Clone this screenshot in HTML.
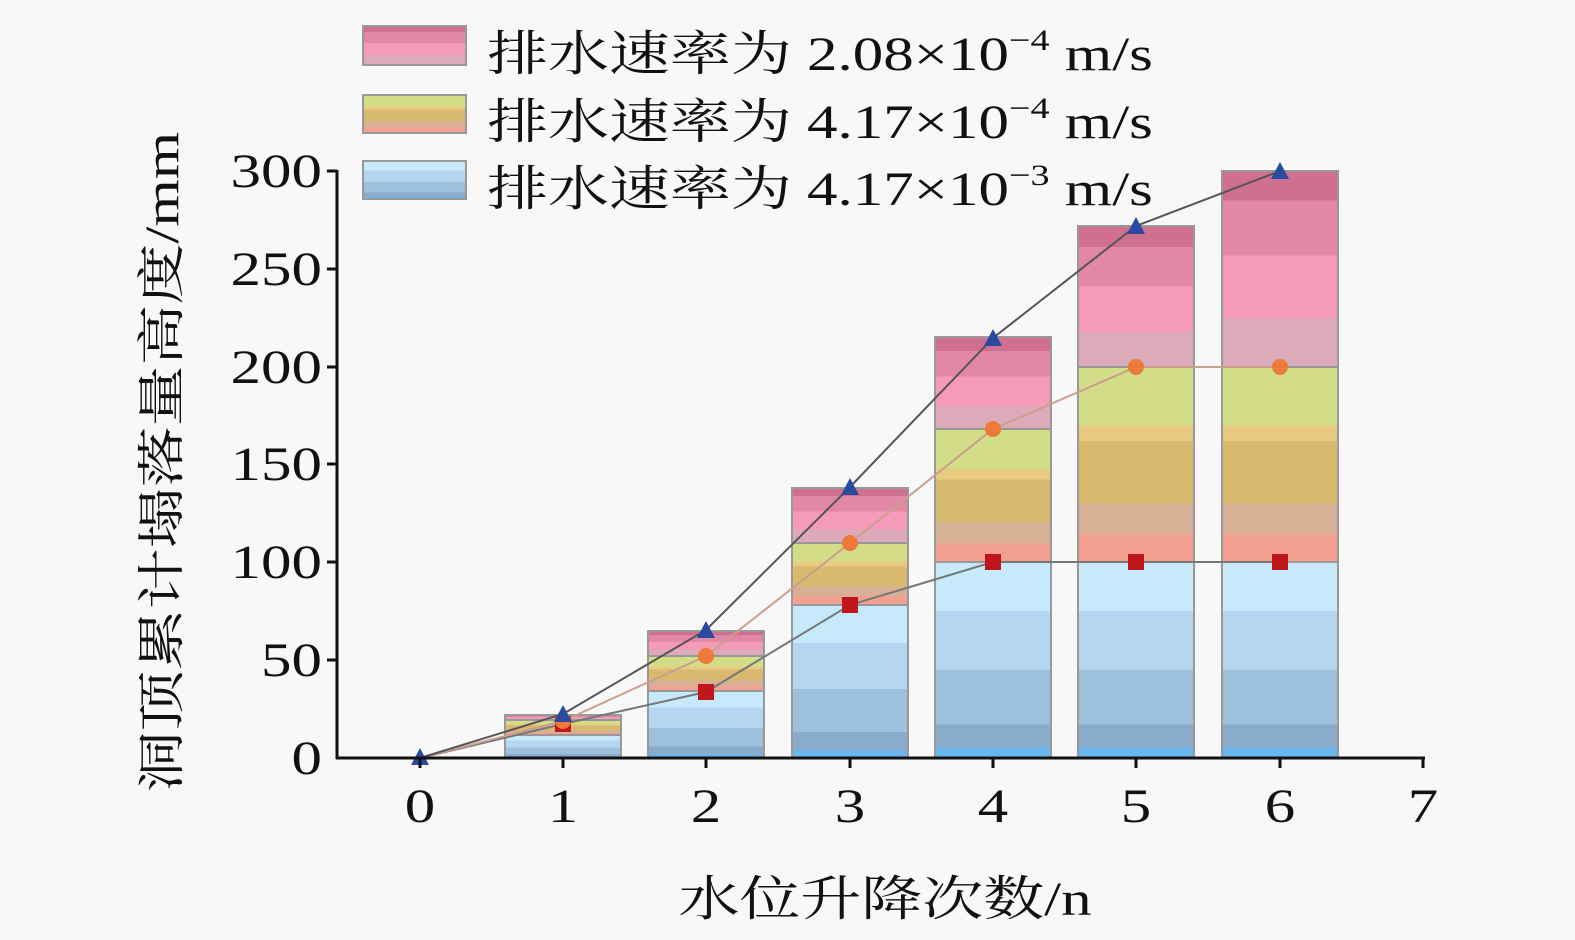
<!DOCTYPE html>
<html><head><meta charset="utf-8"><style>
html,body{margin:0;padding:0;background:#f8f8f8;}
svg{display:block;}
text{font-family:"Liberation Serif","Noto Serif CJK SC",serif;fill:#111;}
</style></head><body>
<svg width="1575" height="940" viewBox="0 0 1575 940" xmlns="http://www.w3.org/2000/svg">
<defs>
<linearGradient id="gp" x1="0" y1="0" x2="0" y2="1">
<stop offset="0" stop-color="#cf7090"/><stop offset="0.15" stop-color="#cf7090"/>
<stop offset="0.15" stop-color="#e288a5"/><stop offset="0.43" stop-color="#e288a5"/>
<stop offset="0.43" stop-color="#f59bb8"/><stop offset="0.75" stop-color="#f59bb8"/>
<stop offset="0.75" stop-color="#dcaab8"/><stop offset="1" stop-color="#dcaab8"/>
</linearGradient>
<linearGradient id="gy" x1="0" y1="0" x2="0" y2="1">
<stop offset="0" stop-color="#d3dd88"/><stop offset="0.3" stop-color="#d3dd88"/>
<stop offset="0.3" stop-color="#e8ca80"/><stop offset="0.38" stop-color="#e8ca80"/>
<stop offset="0.38" stop-color="#d9b96e"/><stop offset="0.7" stop-color="#d9b96e"/>
<stop offset="0.7" stop-color="#d8b096"/><stop offset="0.86" stop-color="#d8b096"/>
<stop offset="0.86" stop-color="#f4a090"/><stop offset="1" stop-color="#f4a090"/>
</linearGradient>
<linearGradient id="gb" x1="0" y1="0" x2="0" y2="1">
<stop offset="0" stop-color="#c7e9fc"/><stop offset="0.25" stop-color="#c7e9fc"/>
<stop offset="0.25" stop-color="#b5d6f0"/><stop offset="0.55" stop-color="#b5d6f0"/>
<stop offset="0.55" stop-color="#9dc0dc"/><stop offset="0.83" stop-color="#9dc0dc"/>
<stop offset="0.83" stop-color="#8aaccc"/><stop offset="0.95" stop-color="#8aaccc"/>
<stop offset="0.95" stop-color="#6ab6ee"/><stop offset="1" stop-color="#6ab6ee"/>
</linearGradient>
</defs>

<!-- legend -->
<rect x="363" y="26" width="103" height="39" fill="url(#gp)" stroke="#999" stroke-width="2"/>
<rect x="363" y="95" width="103" height="38" fill="url(#gy)" stroke="#999" stroke-width="2"/>
<rect x="363" y="161" width="103" height="38" fill="url(#gb)" stroke="#999" stroke-width="2"/>
<g transform="translate(487,0) scale(1.27,1)">
<text x="0" y="70" font-size="48">排水速率为 2.08×10<tspan font-size="30" dy="-20">−4</tspan><tspan dy="20"> m/s</tspan></text>
<text x="0" y="138" font-size="48">排水速率为 4.17×10<tspan font-size="30" dy="-20">−4</tspan><tspan dy="20"> m/s</tspan></text>
<text x="0" y="205" font-size="48">排水速率为 4.17×10<tspan font-size="30" dy="-20">−3</tspan><tspan dy="20"> m/s</tspan></text>
</g>

<g stroke="#999" stroke-width="2">
<rect x="505" y="715" width="116" height="5" fill="url(#gp)"/>
<rect x="505" y="720" width="116" height="15" fill="url(#gy)"/>
<rect x="505" y="735" width="116" height="23" fill="url(#gb)"/>
<rect x="648" y="631" width="116" height="25" fill="url(#gp)"/>
<rect x="648" y="656" width="116" height="35" fill="url(#gy)"/>
<rect x="648" y="691" width="116" height="67" fill="url(#gb)"/>
<rect x="792" y="488" width="116" height="55" fill="url(#gp)"/>
<rect x="792" y="543" width="116" height="62" fill="url(#gy)"/>
<rect x="792" y="605" width="116" height="153" fill="url(#gb)"/>
<rect x="935" y="337" width="116" height="92" fill="url(#gp)"/>
<rect x="935" y="429" width="116" height="133" fill="url(#gy)"/>
<rect x="935" y="562" width="116" height="196" fill="url(#gb)"/>
<rect x="1078" y="226" width="116" height="141" fill="url(#gp)"/>
<rect x="1078" y="367" width="116" height="195" fill="url(#gy)"/>
<rect x="1078" y="562" width="116" height="196" fill="url(#gb)"/>
<rect x="1222" y="171" width="116" height="196" fill="url(#gp)"/>
<rect x="1222" y="367" width="116" height="195" fill="url(#gy)"/>
<rect x="1222" y="562" width="116" height="196" fill="url(#gb)"/>
</g>

<g fill="none" stroke-width="2">
<polyline points="420,758 563,724 706,692 850,605 993,562 1136,562 1280,562" stroke="#777"/>
<polyline points="420,758 563,721 706,656 850,543 993,429 1136,367 1280,367" stroke="#c8a090"/>
<polyline points="420,758 563,714 706,630 850,487 993,338 1136,226 1280,171" stroke="#555"/>
</g>
<g fill="#c0161c">
<rect x="555" y="716" width="16" height="16"/><rect x="698" y="684" width="16" height="16"/>
<rect x="842" y="597" width="16" height="16"/><rect x="985" y="554" width="16" height="16"/>
<rect x="1128" y="554" width="16" height="16"/><rect x="1272" y="554" width="16" height="16"/>
</g>
<g fill="#ee7a3a">
<circle cx="563" cy="721" r="8"/><circle cx="706" cy="656" r="8"/><circle cx="850" cy="543" r="8"/>
<circle cx="993" cy="429" r="8"/><circle cx="1136" cy="367" r="8"/><circle cx="1280" cy="367" r="8"/>
</g>
<g fill="#2a4aa0">
<polygon points="420,748 411,765 429,765"/>
<polygon points="563,705 554,722 572,722"/><polygon points="706,621 697,638 715,638"/>
<polygon points="850,478 841,495 859,495"/><polygon points="993,329 984,346 1002,346"/>
<polygon points="1136,217 1127,234 1145,234"/><polygon points="1280,162 1271,179 1289,179"/>
</g>

<g stroke="#111" stroke-width="3" fill="none">
<line x1="337" y1="170" x2="337" y2="759"/>
<line x1="336" y1="758" x2="1425" y2="758"/>
<line x1="327" y1="171" x2="337" y2="171"/><line x1="327" y1="269" x2="337" y2="269"/>
<line x1="327" y1="367" x2="337" y2="367"/><line x1="327" y1="464" x2="337" y2="464"/>
<line x1="327" y1="562" x2="337" y2="562"/><line x1="327" y1="660" x2="337" y2="660"/>
<line x1="420" y1="758" x2="420" y2="768"/><line x1="563" y1="758" x2="563" y2="768"/>
<line x1="706" y1="758" x2="706" y2="768"/><line x1="850" y1="758" x2="850" y2="768"/>
<line x1="993" y1="758" x2="993" y2="768"/><line x1="1136" y1="758" x2="1136" y2="768"/>
<line x1="1280" y1="758" x2="1280" y2="768"/><line x1="1423" y1="758" x2="1423" y2="768"/>
</g>
<g font-size="48" text-anchor="end" transform="translate(322,0) scale(1.27,1)">
<text x="0" y="187">300</text><text x="0" y="285">250</text><text x="0" y="383">200</text>
<text x="0" y="480">150</text><text x="0" y="578">100</text><text x="0" y="676">50</text>
<text x="0" y="774">0</text>
</g>
<g font-size="48" text-anchor="middle">
<text transform="translate(420,822) scale(1.27,1)">0</text>
<text transform="translate(563,822) scale(1.27,1)">1</text>
<text transform="translate(706,822) scale(1.27,1)">2</text>
<text transform="translate(850,822) scale(1.27,1)">3</text>
<text transform="translate(993,822) scale(1.27,1)">4</text>
<text transform="translate(1136,822) scale(1.27,1)">5</text>
<text transform="translate(1280,822) scale(1.27,1)">6</text>
<text transform="translate(1423,822) scale(1.27,1)">7</text>
</g>
<text transform="translate(885,915) scale(1.27,1)" font-size="48" text-anchor="middle">水位升降次数/n</text>
<text transform="translate(178,462) rotate(-90) scale(1.27,1)" font-size="48" text-anchor="middle">洞顶累计塌落量高度/mm</text>
</svg>
</body></html>
